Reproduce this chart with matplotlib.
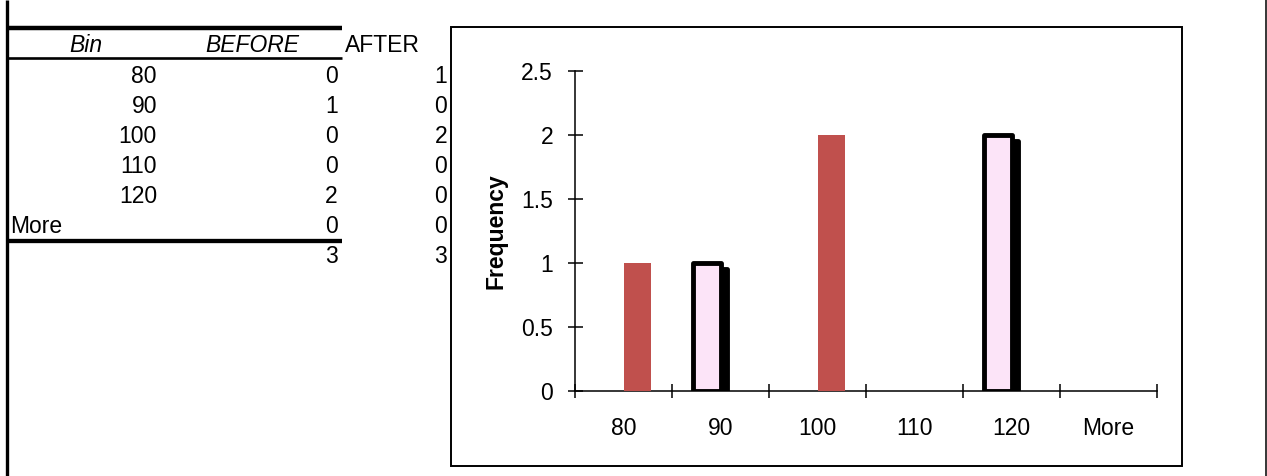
import matplotlib
matplotlib.use("Agg")
import matplotlib.pyplot as plt
import matplotlib.patheffects as pe
from matplotlib.patches import Rectangle
from matplotlib.ticker import FuncFormatter

plt.rcParams['font.family'] = ['Liberation Sans', 'DejaVu Sans']

# Histogram frequency table
bins = ['80', '90', '100', '110', '120', 'More']
before = [0, 1, 0, 0, 2, 0]
after = [1, 0, 2, 0, 0, 0]
y_ticks = [0, 0.5, 1, 1.5, 2, 2.5]

W, H = 1267, 476
fig = plt.figure(figsize=(W / 100, H / 100), dpi=100)

# background layer in pixel coordinates for the sheet-style table
bg = fig.add_axes([0, 0, 1, 1])
bg.set_xlim(0, W)
bg.set_ylim(H, 0)
bg.axis('off')

fs = 16.5
bg.plot([7.3, 7.3], [0, H], color='black', lw=2.4, solid_capstyle='butt')
bg.plot([1265.5, 1265.5], [0, H], color='black', lw=1.1, solid_capstyle='butt')
bg.plot([6, 342], [27.5, 27.5], color='black', lw=3.2, solid_capstyle='butt')
bg.plot([6, 342], [58, 58], color='black', lw=1.9, solid_capstyle='butt')
bg.plot([6, 342], [241, 241], color='black', lw=3.1, solid_capstyle='butt')

bg.text(86, 52, 'Bin', style='italic', fontsize=fs, ha='center', va='baseline')
bg.text(299, 52, 'BEFORE', style='italic', fontsize=fs, ha='right', va='baseline')
bg.text(345, 52, 'AFTER', fontsize=fs, ha='left', va='baseline')

row_h = 30
for i, (b, v1, v2) in enumerate(zip(bins, before, after)):
    yb = 83.3 + row_h * i
    if b.isdigit():
        bg.text(157, yb, b, fontsize=fs, ha='right', va='baseline')
    else:
        bg.text(10, yb, b, fontsize=fs, ha='left', va='baseline')
    bg.text(338, yb, str(v1), fontsize=fs, ha='right', va='baseline')
    bg.text(447, yb, str(v2), fontsize=fs, ha='right', va='baseline')

yb = 83.3 + row_h * len(bins)
bg.text(338, yb, str(sum(before)), fontsize=fs, ha='right', va='baseline')
bg.text(447, yb, str(sum(after)), fontsize=fs, ha='right', va='baseline')

# chart frame
bg.add_patch(Rectangle((450.5, 26.5), 731, 439, fill=False, edgecolor='black', lw=1.4))

# chart plot area
x0, x1 = 575, 1157
ytop, ybot = 70.7, 390.7
ax = fig.add_axes([x0 / W, (H - ybot) / H, (x1 - x0) / W, (ybot - ytop) / H])
ax.patch.set_alpha(0)

centers = [i + 0.5 for i in range(len(bins))]
bw = 0.28
bars_before = ax.bar([c - bw for c in centers], before, width=bw, align='edge',
                     color='#FCE4F8', edgecolor='black', linewidth=3.5, zorder=3)
bars_after = ax.bar(centers, after, width=bw, align='edge',
                    color='#C0504D', linewidth=0, zorder=3)

shadow = [pe.Stroke(offset=(4.5, -4.5), linewidth=3.5, foreground='black'),
          pe.SimplePatchShadow(offset=(4.5, -4.5), shadow_rgbFace='black', alpha=1),
          pe.Normal()]
for patch, v in zip(bars_before, before):
    if v == 0:
        patch.set_visible(False)
    else:
        patch.set_path_effects(shadow)
        patch.set_joinstyle('round')

ax.set_xlim(0, len(bins))
ax.set_ylim(0, 2.5)
for s in ['top', 'right']:
    ax.spines[s].set_visible(False)
for s in ['left', 'bottom']:
    ax.spines[s].set_linewidth(1.1)

ax.set_yticks(y_ticks)
ax.yaxis.set_major_formatter(FuncFormatter(lambda v, _: f'{v:g}'))
ax.tick_params(axis='y', direction='inout', length=10.8, width=1.1, pad=10.4, labelsize=fs)

ax.set_xticks(range(len(bins) + 1))
ax.set_xticklabels([])
ax.set_xticks(centers, minor=True)
ax.set_xticklabels(bins, minor=True)
ax.tick_params(axis='x', which='major', direction='inout', length=10, width=1.1)
ax.tick_params(axis='x', which='minor', length=0, pad=19.0, labelsize=fs)

bg.text(496, (ytop + ybot) / 2, 'Frequency', fontsize=fs, fontweight='bold',
        rotation=90, ha='center', va='center')

fig.savefig('out.png', dpi=100)
